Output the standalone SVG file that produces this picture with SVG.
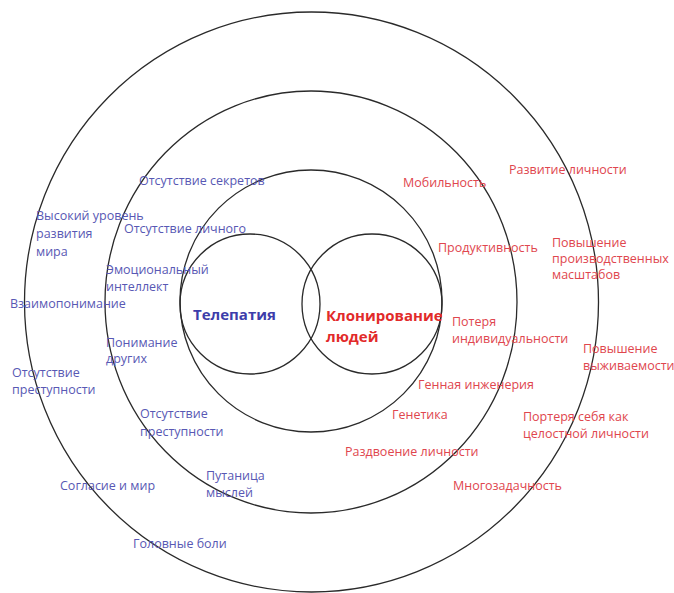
<svg xmlns="http://www.w3.org/2000/svg" width="674" height="593" viewBox="0 0 674 593">
<style>
.c{fill:none;stroke:#2a2a2a;stroke-width:1.3}
text{font-family:"Open Sans","Liberation Sans",sans-serif;font-size:12.5px}
.b{fill:#5858b4}
.r{fill:#e0464e}
.tb{fill:#3d3daa;font-weight:bold;font-size:15px}
.tr{fill:#e22a2a;font-weight:bold;font-size:15px}
</style>
<rect width="674" height="593" fill="#ffffff"/>
<g id="rings">
<ellipse id="outer" class="c" cx="311.5" cy="302" rx="287" ry="290"/>
<ellipse id="middle" class="c" cx="311" cy="302" rx="206" ry="211"/>
<ellipse id="inner" class="c" cx="311" cy="301" rx="131" ry="131"/>
</g>
<g id="telepathy">
<circle class="c" cx="250" cy="304" r="70"/>
<text class="tb" x="193" y="320">Телепатия</text>
</g>
<g id="cloning">
<circle class="c" cx="372" cy="304" r="70"/>
<text class="tr" x="326" y="321">Клонирование</text>
<text class="tr" x="326" y="342">людей</text>
</g>
<g id="blue-labels">
<text class="b" x="139" y="185">Отсутствие секретов</text>
<text class="b" x="36" y="220">Высокий уровень</text>
<text class="b" x="36" y="238">развития</text>
<text class="b" x="36" y="256">мира</text>
<text class="b" x="124" y="233">Отсутствие личного</text>
<text class="b" x="106" y="274">Эмоциональный</text>
<text class="b" x="106" y="291">интеллект</text>
<text class="b" x="10" y="308">Взаимопонимание</text>
<text class="b" x="106" y="347">Понимание</text>
<text class="b" x="106" y="363">других</text>
<text class="b" x="12" y="377">Отсутствие</text>
<text class="b" x="12" y="394">преступности</text>
<text class="b" x="140" y="418">Отсутствие</text>
<text class="b" x="140" y="436">преступности</text>
<text class="b" x="60" y="490">Согласие и мир</text>
<text class="b" x="206" y="480">Путаница</text>
<text class="b" x="206" y="497">мыслей</text>
<text class="b" x="133" y="548">Головные боли</text>
</g>
<g id="red-labels">
<text class="r" x="509" y="174">Развитие личности</text>
<text class="r" x="403" y="187">Мобильность</text>
<text class="r" x="438" y="252">Продуктивность</text>
<text class="r" x="552" y="247">Повышение</text>
<text class="r" x="552" y="263">производственных</text>
<text class="r" x="552" y="279">масштабов</text>
<text class="r" x="452" y="326">Потеря</text>
<text class="r" x="452" y="343">индивидуальности</text>
<text class="r" x="583" y="353">Повышение</text>
<text class="r" x="583" y="370">выживаемости</text>
<text class="r" x="418" y="389">Генная инженерия</text>
<text class="r" x="392" y="419">Генетика</text>
<text class="r" x="523" y="421">Портеря себя как</text>
<text class="r" x="523" y="438">целостной личности</text>
<text class="r" x="345" y="456">Раздвоение личности</text>
<text class="r" x="453" y="490">Многозадачность</text>
</g>
</svg>
